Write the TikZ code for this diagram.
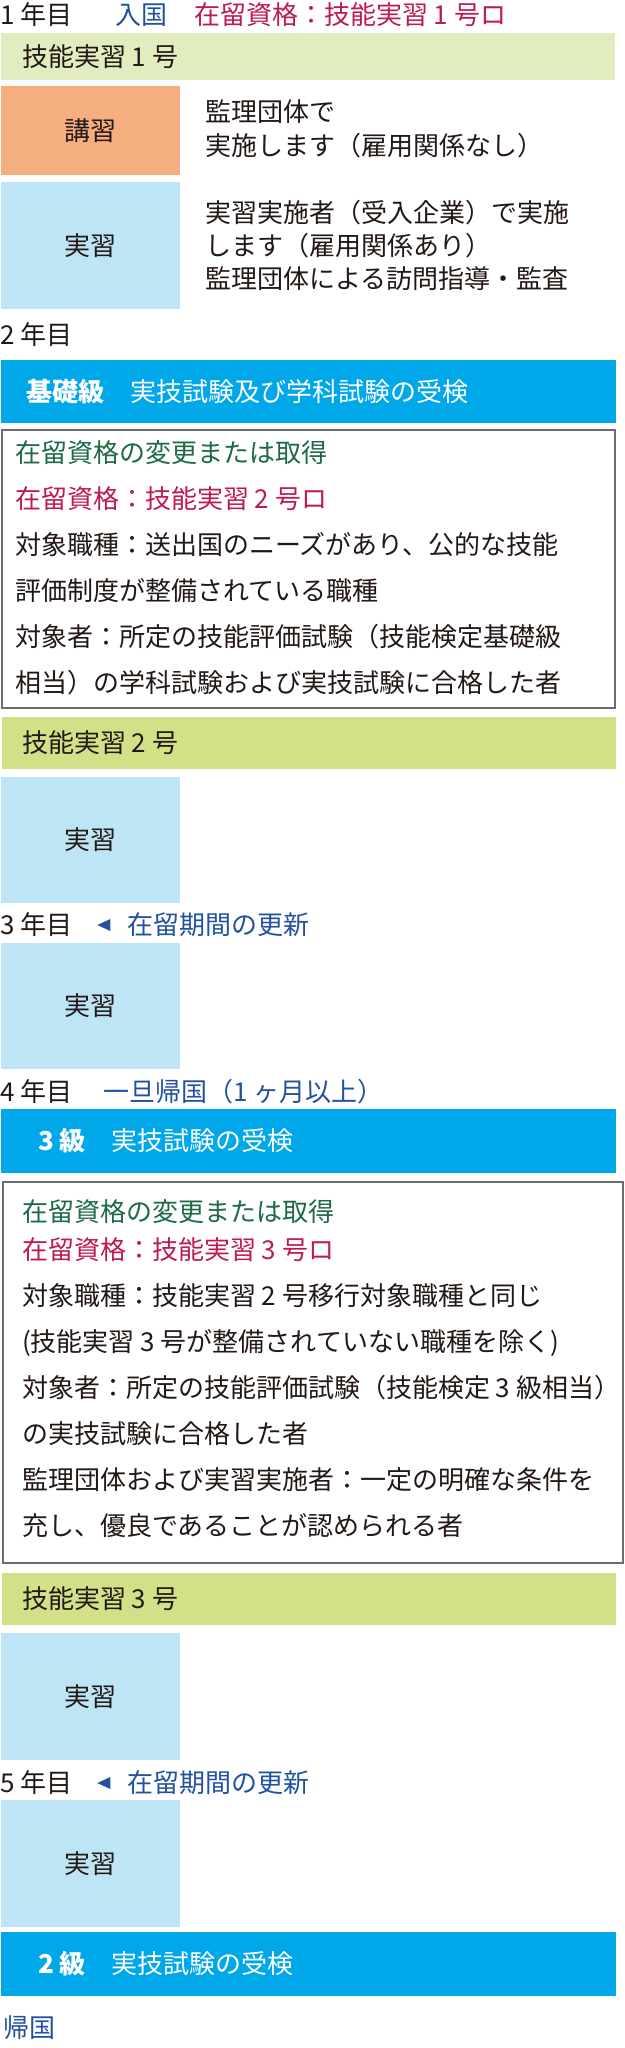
\documentclass[tikz,border=0pt]{standalone}
\usepackage{fontspec}
\setmainfont{Noto Sans CJK JP}
\usetikzlibrary{positioning,shapes.geometric}
\definecolor{barGreenLight}{HTML}{E1ECBF}
\definecolor{barGreen}{HTML}{D2E188}
\definecolor{boxOrange}{HTML}{F4AE80}
\definecolor{boxBlue}{HTML}{BDE5F6}
\definecolor{barBlue}{HTML}{00A7E9}
\definecolor{txtBlue}{HTML}{22519F}
\definecolor{txtRed}{HTML}{BE1A50}
\definecolor{txtGreen}{HTML}{1D6A45}
\definecolor{txtBlack}{HTML}{231815}
\definecolor{frameGray}{HTML}{6E6E6E}

\begin{document}
\begin{tikzpicture}[x=1pt, y=-1pt, inner sep=0pt, outer sep=0pt,
    font=\fontsize{26}{34}\selectfont, text=txtBlack,
    stagebar/.style={fill=barGreen, anchor=north west,
        minimum width=614pt, minimum height=52pt},
    exambar/.style={fill=barBlue, anchor=north west,
        minimum width=615pt, minimum height=64pt},
    trainbox/.style={fill=boxBlue, anchor=north west,
        minimum width=179pt, minimum height=127pt},
    checkbox/.style={draw=frameGray, line width=1.2pt, anchor=north west},
    yearlabel/.style={anchor=west},
    note/.style={anchor=west, text=txtBlue},
    renewmark/.style={isosceles triangle, isosceles triangle stretches,
        shape border rotate=180, fill=txtBlue,
        minimum height=13pt, minimum width=12pt},
    infotext/.style={anchor=north west, align=left,
        font=\fontsize{26}{46}\selectfont}]
    \useasboundingbox (0,0) rectangle (624,2048);

    % Year 1
    \node [yearlabel] (Year1) at (0,15) {1 年目};
    \node [note] (Entry1) at (115,15) {入国};
    \node [anchor=west, text=txtRed] (Status1) at (194,15) {在留資格：技能実習 1 号ロ};
    \node [stagebar,
        fill=barGreenLight,
        minimum height=47pt
    ] (Stage1) at (1,33) {};
    \node [right=21pt of Stage1.west] (Stage1Text) {技能実習 1 号};
    \node [trainbox,
        fill=boxOrange,
        minimum height=89pt
    ] (Lecture1) at (1,86) {講習};
    \node [anchor=north west, align=left] (Lecture1Text) at (205,100)
    {監理団体で\\実施します（雇用関係なし）};
    \node [trainbox] (Practice1) at (1,182) {実習};
    \node [anchor=north west, align=left,
        font=\fontsize{26}{33}\selectfont
    ] (Practice1Text) at (205,200)
    {実習実施者（受入企業）で実施\\します（雇用関係あり）\\監理団体による訪問指導・監査};

    % Year 2
    \node [yearlabel] (Year2) at (0,335) {2 年目};
    \node [exambar, minimum height=63pt] (Exam1) at (1,360) {};
    \node [right=25pt of Exam1.west, text=white] (Exam1Text)
    {{\bfseries 基礎級}　実技試験及び学科試験の受検};
    \node [checkbox,
        minimum width=613pt,
        minimum height=278pt
    ] (Check2) at (2,430) {};
    \node [infotext] (Check2Text) at (15,441)
    {\textcolor{txtGreen}{在留資格の変更または取得}\\
     \textcolor{txtRed}{在留資格：技能実習 2 号ロ}\\
     対象職種：送出国のニーズがあり、公的な技能\\
     評価制度が整備されている職種\\
     対象者：所定の技能評価試験（技能検定基礎級\\
     相当）の学科試験および実技試験に合格した者};
    \node [stagebar] (Stage2) at (2,717) {};
    \node [right=20pt of Stage2.west] (Stage2Text) {技能実習 2 号};
    \node [trainbox, minimum height=126pt] (Practice2) at (1,777) {実習};

    % Year 3
    \node [yearlabel] (Year3) at (0,925) {3 年目};
    \node [renewmark] (Mark3) at (106.5,925) {};
    \node [note] (Renew3) at (127,925) {在留期間の更新};
    \node [trainbox, minimum height=126pt] (Practice3) at (1,943) {実習};

    % Year 4
    \node [yearlabel] (Year4) at (0,1092) {4 年目};
    \node [note] (Return4) at (103,1092) {一旦帰国（1 ヶ月以上）};
    \node [exambar] (Exam2) at (1,1109) {};
    \node [right=37pt of Exam2.west, text=white] (Exam2Text)
    {{\bfseries 3 級}　実技試験の受検};
    \node [checkbox,
        minimum width=620pt,
        minimum height=381pt
    ] (Check3) at (3,1182) {};
    \node [infotext] (Check3Text) at (22,1200)
    {\textcolor{txtGreen}{在留資格の変更または取得}\\[-8pt]
     \textcolor{txtRed}{在留資格：技能実習 3 号ロ}\\
     対象職種：技能実習 2 号移行対象職種と同じ\\
     (技能実習 3 号が整備されていない職種を除く)\\
     対象者：所定の技能評価試験（技能検定 3 級相当）\\
     の実技試験に合格した者\\
     監理団体および実習実施者：一定の明確な条件を\\
     充し、優良であることが認められる者};
    \node [stagebar] (Stage3) at (2,1573) {};
    \node [right=20pt of Stage3.west] (Stage3Text) {技能実習 3 号};
    \node [trainbox] (Practice4) at (1,1633) {実習};

    % Year 5
    \node [yearlabel] (Year5) at (0,1783) {5 年目};
    \node [renewmark] (Mark5) at (106.5,1783) {};
    \node [note] (Renew5) at (127,1783) {在留期間の更新};
    \node [trainbox] (Practice5) at (1,1800) {実習};
    \node [exambar] (Exam3) at (1,1932) {};
    \node [right=37pt of Exam3.west, text=white] (Exam3Text)
    {{\bfseries 2 級}　実技試験の受検};
    \node [note] (Home) at (3,2028) {帰国};

\end{tikzpicture}
\end{document}
